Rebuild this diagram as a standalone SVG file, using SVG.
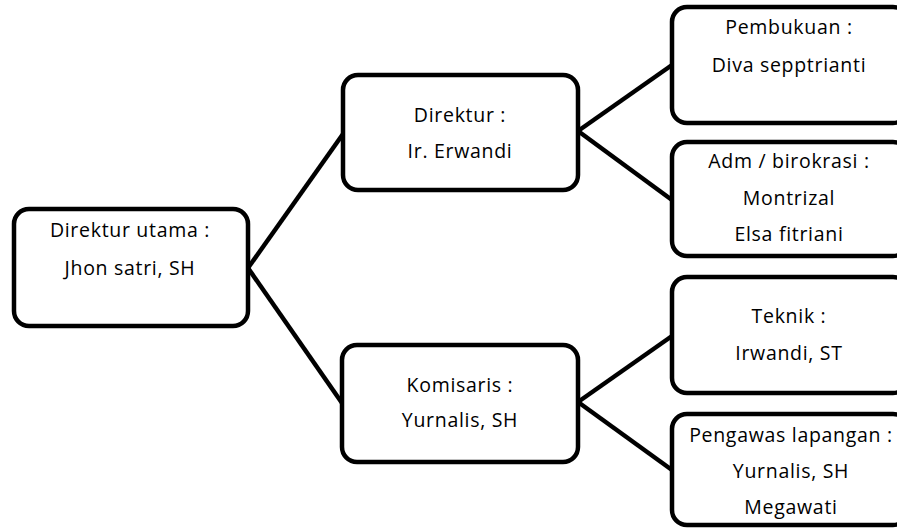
<svg xmlns="http://www.w3.org/2000/svg" width="897" height="528" viewBox="0 0 897 528">
<style>
.box{fill:#fff;stroke:#000;stroke-width:4.5}
.con{stroke:#000;stroke-width:4.5;fill:none}
text{font-family:"Open Sans","Liberation Sans",sans-serif;font-size:19.5px;letter-spacing:0.7px;fill:#000;text-anchor:middle}
</style>
<rect width="897" height="528" fill="#fff"/>
<g id="connectors">
<line class="con" x1="248" y1="268" x2="343" y2="134"/>
<line class="con" x1="248" y1="268" x2="342" y2="403"/>
<line class="con" x1="578" y1="131" x2="672" y2="65"/>
<line class="con" x1="578" y1="131" x2="672" y2="200"/>
<line class="con" x1="578" y1="402" x2="672" y2="336"/>
<line class="con" x1="578" y1="402" x2="672" y2="470"/>
</g>
<g id="direktur-utama">
<rect class="box" x="14" y="209" width="234" height="117" rx="15"/>
<text x="130" y="237">Direktur utama :</text>
<text x="130" y="275">Jhon satri, SH</text>
</g>
<g id="direktur">
<rect class="box" x="343" y="75" width="235" height="115" rx="15"/>
<text x="460" y="122">Direktur :</text>
<text x="460" y="158">Ir. Erwandi</text>
</g>
<g id="komisaris">
<rect class="box" x="342" y="345" width="236" height="117" rx="15"/>
<text x="460" y="392">Komisaris :</text>
<text x="460" y="427">Yurnalis, SH</text>
</g>
<g id="pembukuan">
<rect class="box" x="672" y="7" width="236" height="116" rx="15"/>
<text x="789" y="34">Pembukuan :</text>
<text x="789" y="72">Diva sepptrianti</text>
</g>
<g id="adm">
<rect class="box" x="672" y="142" width="236" height="114" rx="15"/>
<text x="789" y="168">Adm / birokrasi :</text>
<text x="789" y="205">Montrizal</text>
<text x="789" y="241">Elsa fitriani</text>
</g>
<g id="teknik">
<rect class="box" x="672" y="277" width="236" height="116" rx="15"/>
<text x="789" y="323">Teknik :</text>
<text x="789" y="360">Irwandi, ST</text>
</g>
<g id="pengawas">
<rect class="box" x="672" y="414" width="236" height="111" rx="15"/>
<text x="791" y="442">Pengawas lapangan :</text>
<text x="791" y="478">Yurnalis, SH</text>
<text x="791" y="514">Megawati</text>
</g>
</svg>
